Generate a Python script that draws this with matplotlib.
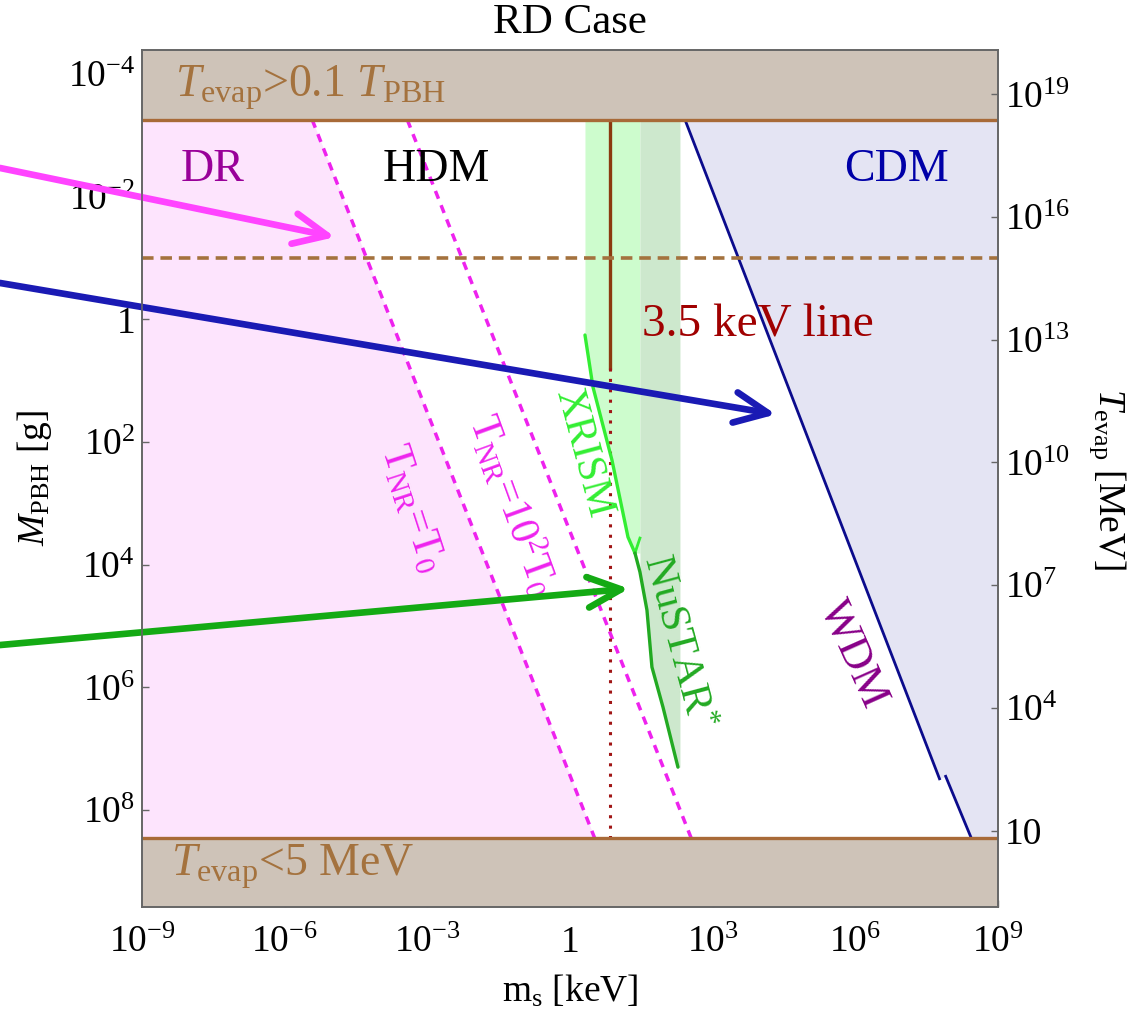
import numpy as np
import matplotlib
matplotlib.use('Agg')
import matplotlib.pyplot as plt
from matplotlib.patches import ArrowStyle

plt.rcParams['font.family'] = ['Liberation Serif', 'DejaVu Serif']
plt.rcParams['mathtext.fontset'] = 'custom'
plt.rcParams['mathtext.rm'] = 'Liberation Serif'
plt.rcParams['mathtext.it'] = 'Liberation Serif:italic'
plt.rcParams['mathtext.bf'] = 'Liberation Serif:bold'

# ---------------- data ----------------
m_lim = [1e-9, 1e9]                    # m_s [keV]
M_lim = [10**9.58, 10**-4.39]          # M_PBH [g] (bottom, top)
m_ticks = [1e-9, 1e-6, 1e-3, 1.0, 1e3, 1e6, 1e9]
m_ticklabels = [r'$10^{-9}$', r'$10^{-6}$', r'$10^{-3}$', '1', r'$10^{3}$', r'$10^{6}$', r'$10^{9}$']
M_ticks = [1e-4, 1e-2, 1.0, 1e2, 1e4, 1e6, 1e8]
M_ticklabels = [r'$10^{-4}$', r'$10^{-2}$', '1', r'$10^{2}$', r'$10^{4}$', r'$10^{6}$', r'$10^{8}$']
T_ticks = [1e19, 1e16, 1e13, 1e10, 1e7, 1e4, 10]
T_ticklabels = [r'$10^{19}$', r'$10^{16}$', r'$10^{13}$', r'$10^{10}$', r'$10^{7}$', r'$10^{4}$', '10']
T_norm = 10**13.5          # T_evap [MeV] = T_norm * M^-1.5

M_top_bound = 10**-3.25    # T_evap > 0.1 T_PBH
M_bot_bound = 10**8.46     # T_evap < 5 MeV
M_dashed = 10**-1.0

tnr0_M = [M_top_bound, M_bot_bound]
tnr0_m = [10**-5.42, 10**0.52]
tnr100_M = [M_top_bound, M_bot_bound]
tnr100_m = [10**-3.42, 10**2.55]

wdm1_M = [10**-3.25, 10**7.49]
wdm1_m = [10**2.42, 10**7.77]
wdm2_M = [10**7.45, 10**8.46]
wdm2_m = [10**7.90, 10**8.44]

m_line35 = 7.0
M_line35_solid_end = 10**0.79

xrism_band = [10**0.315, 10**1.471]
nustar_band = [10**1.471, 10**2.312]
xrism_logM = [0.256, 1.104, 2.294, 3.549, 3.810]
xrism_logm = [0.315, 0.483, 0.882, 1.219, 1.366]
xrism_hook_logM = [3.810, 3.566]
xrism_hook_logm = [1.366, 1.471]
nustar_logM = [3.810, 4.120, 4.740, 5.669, 6.321, 7.300]
nustar_logm = [1.366, 1.471, 1.618, 1.723, 1.955, 2.270]

# arrow tips (data) and tails (figure fraction y at left edge)
arrow_tips = [(10**-4.94, 10**-1.34), (10**4.33, 10**1.55), (10**1.24, 10**4.39)]
arrow_tail_y = [0.8345, 0.7212, 0.3645]
arrow_colors = ['#ff44ff', '#1a1ab4', '#14aa14']

# ---------------- colors ----------------
tan = '#cec3b8'
brown = '#a86a38'
brown_txt = '#a4723e'
pink = '#fde4fd'
lav = '#e4e4f3'
magenta = '#ee22ee'
navy = '#0b0b8c'

fig = plt.figure(figsize=(11.4, 10.15), dpi=100)
ax = fig.add_axes([142/1140, 1-907/1015, (998-142)/1140, (907-50)/1015])
ax.set_xscale('log')
ax.set_yscale('log')
ax.set_xlim(*m_lim)
ax.set_ylim(*M_lim)

# DR region (pink)
ax.fill_betweenx(tnr0_M, [m_lim[0]]*2, tnr0_m, color=pink, lw=0, zorder=1)
# CDM region (lavender)
cdm_M = wdm1_M + wdm2_M
cdm_m = wdm1_m + wdm2_m
ax.fill_betweenx(cdm_M, cdm_m, [m_lim[1]]*4, color=lav, lw=0, zorder=1)

# XRISM band
xr_M = [M_top_bound] + [10**v for v in xrism_logM]
xr_left = [xrism_band[0]] + [10**v for v in xrism_logm]
ax.fill_betweenx(xr_M, xr_left, [xrism_band[1]]*len(xr_M), color='#cdfccd', lw=0, zorder=1)
# NuSTAR band
nu_M = [M_top_bound] + [10**v for v in nustar_logM[1:]]
nu_left = [nustar_band[0]] + [10**v for v in nustar_logm[1:]]
ax.fill_betweenx(nu_M, nu_left, [nustar_band[1]]*len(nu_M), color='#cde8cd', lw=0, zorder=1)

# T_NR lines
ax.plot(tnr0_m, tnr0_M, color=magenta, lw=2.5, dashes=[2.4, 2.0], zorder=3)
ax.plot(tnr100_m, tnr100_M, color=magenta, lw=2.5, dashes=[2.4, 2.0], zorder=3)

# WDM line
ax.plot(wdm1_m, wdm1_M, color=navy, lw=2.0, zorder=3)
ax.plot(wdm2_m, wdm2_M, color=navy, lw=2.0, zorder=3)

# 3.5 keV line
ax.plot([m_line35, m_line35], [M_top_bound, M_line35_solid_end], color='#8b3a0f', lw=2.4, zorder=3)
ax.plot([m_line35, m_line35], [M_line35_solid_end, M_bot_bound], color='#a01515', lw=2.2,
        linestyle=(0, (1, 2.4)), zorder=3)

# XRISM / NuSTAR curves
ax.plot([10**v for v in xrism_logm], [10**v for v in xrism_logM], color='#33ee33', lw=2.4, zorder=3,
        solid_capstyle='round')
ax.plot([10**v for v in xrism_hook_logm], [10**v for v in xrism_hook_logM], color='#33ee33', lw=2.0, zorder=3)
ax.plot([10**v for v in nustar_logm], [10**v for v in nustar_logM], color='#22aa22', lw=2.4, zorder=3,
        solid_capstyle='round')

# horizontal dashed
ax.axhline(M_dashed, color=brown_txt, lw=2.6, dashes=[3.2, 1.9], zorder=3)

# tan bands
ax.axhspan(M_lim[1], M_top_bound, color=tan, lw=0, zorder=4)
ax.axhspan(M_bot_bound, M_lim[0], color=tan, lw=0, zorder=4)
ax.axhline(M_top_bound, color=brown, lw=2.4, zorder=5)
ax.axhline(M_bot_bound, color=brown, lw=2.4, zorder=5)

# texts
ax.text(10**-8.3, 10**-3.78, r'$T_{\mathrm{evap}}$>0.1 $T_{\mathrm{PBH}}$', color=brown_txt, fontsize=33,
        ha='left', va='center', zorder=6)
ax.text(10**-8.4, 10**8.93, r'$T_{\mathrm{evap}}$<5 MeV', color=brown_txt, fontsize=33,
        ha='left', va='center', zorder=6)
ax.text(10**-7.51, 10**-2.43, 'DR', color='#990099', fontsize=33, ha='center', va='center', zorder=6)
ax.text(10**-2.82, 10**-2.43, 'HDM', color='black', fontsize=33, ha='center', va='center', zorder=6)
ax.text(10**6.87, 10**-2.43, 'CDM', color='#0000a8', fontsize=33, ha='center', va='center', zorder=6)
ax.text(10**3.95, 10**0.09, '3.5 keV line', color='#a00000', fontsize=34, ha='center', va='center', zorder=6)
ax.text(10**0.27, 10**2.18, 'XRISM', color='#33ee33', fontsize=30, rotation=-75,
        ha='center', va='center', zorder=6, rotation_mode='anchor')
ax.text(10**2.25, 10**5.26, r'NuSTAR$^{*}$', color='#22aa22', fontsize=31, rotation=-75,
        ha='center', va='center', zorder=6, rotation_mode='anchor')
ax.text(10**5.95, 10**5.45, 'WDM', color='#880088', fontsize=32, rotation=-66,
        ha='center', va='center', zorder=6, rotation_mode='anchor')
ax.text(10**-3.34, 10**3.08, r'T$_{\mathrm{NR}}$=T$_{0}$', color=magenta, fontsize=30, rotation=-72,
        ha='center', va='center', zorder=6, rotation_mode='anchor')
ax.text(10**-1.22, 10**3.03, r'T$_{\mathrm{NR}}$=10$^{2}$T$_{0}$', color=magenta, fontsize=30, rotation=-70,
        ha='center', va='center', zorder=6, rotation_mode='anchor')

# axes styling
spine_c = '#666666'
ax.set_xticks(m_ticks)
ax.set_xticklabels(m_ticklabels)
ax.set_yticks(M_ticks)
ax.set_yticklabels(M_ticklabels)
ax.xaxis.set_minor_locator(matplotlib.ticker.NullLocator())
ax.yaxis.set_minor_locator(matplotlib.ticker.NullLocator())
ax.tick_params(axis='both', which='major', direction='in', length=5, width=1, color=spine_c,
               labelsize=27, pad=5)
ax.tick_params(axis='x', pad=13)
for s in ax.spines.values():
    s.set_color(spine_c)
    s.set_linewidth(1.2)
    s.set_zorder(7)

ax.set_title('RD Case', fontsize=31, pad=12)
ax.set_xlabel(r'm$_{\mathrm{s}}$ [keV]', fontsize=27, labelpad=10)
ax.set_ylabel(r'$M_{\mathrm{PBH}}$ [g]', fontsize=27, labelpad=10)

ax2 = ax.twinx()
ax2.set_yscale('log')
ax2.set_ylim(T_norm * M_lim[0]**-1.5, T_norm * M_lim[1]**-1.5)
ax2.set_yticks(T_ticks)
ax2.set_yticklabels(T_ticklabels)
ax2.yaxis.set_minor_locator(matplotlib.ticker.NullLocator())
ax2.tick_params(axis='y', which='major', direction='in', length=5, width=1, color=spine_c,
                labelsize=27, pad=5)
for s in ax2.spines.values():
    s.set_color(spine_c)
    s.set_linewidth(1.2)
ax2.set_ylabel(r'$T_{\mathrm{evap}}$ [MeV]', fontsize=27, rotation=270, va='bottom', labelpad=12)

# arrows
for (tip, ty, c) in zip(arrow_tips, arrow_tail_y, arrow_colors):
    ax.annotate('', xy=tip, xycoords='data', xytext=(0.0, ty), textcoords='figure fraction',
                arrowprops=dict(arrowstyle=ArrowStyle('->', head_length=2.4, head_width=1.1),
                                mutation_scale=10, color=c, lw=4.8, shrinkA=0, shrinkB=0,
                                capstyle='round', joinstyle='round'),
                annotation_clip=False, zorder=10)

fig.savefig('out.png', dpi=100)
